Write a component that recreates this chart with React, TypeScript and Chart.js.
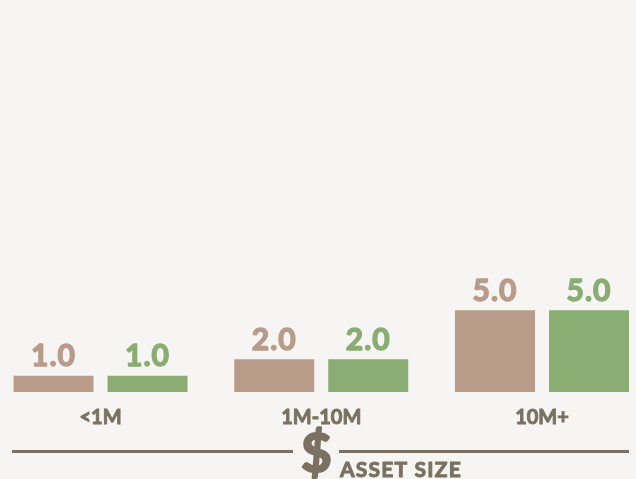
import React, { useEffect, useRef } from "react";
import { Chart, registerables } from "chart.js";

Chart.register(...registerables);

const categories = ["<1M", "1M-10M", "10M+"];
const seriesA = [1.0, 2.0, 5.0];
const seriesB = [1.0, 2.0, 5.0];
const seriesNames = ["Series A", "Series B"];

const BROWN = "#b89c89";
const GREEN = "#8aad73";
const INK = "#7a7162";
const BG = "#f7f5f3";

const valueLabels = {
  id: "valueLabels",
  afterDatasetsDraw(chart: any) {
    const ctx = chart.ctx;
    ctx.save();
    ctx.font = "bold 30px Lato";
    (ctx as any).letterSpacing = "1px";
    ctx.textAlign = "center";
    ctx.textBaseline = "alphabetic";
    ctx.lineWidth = 1.4;
    ctx.lineJoin = "round";
    chart.data.datasets.forEach((ds: any, di: number) => {
      const meta = chart.getDatasetMeta(di);
      meta.data.forEach((el: any, i: number) => {
        const v = ds.data[i].y;
        ctx.fillStyle = ds.backgroundColor;
        ctx.strokeStyle = ds.backgroundColor;
        ctx.fillText(v.toFixed(1), el.x, el.y - 9.5);
        ctx.strokeText(v.toFixed(1), el.x, el.y - 9.5);
      });
    });
    ctx.restore();
  },
};

const axisDecor = {
  id: "axisDecor",
  afterDraw(chart: any) {
    const ctx = chart.ctx;
    ctx.save();
    ctx.strokeStyle = INK;
    ctx.lineWidth = 3;
    ctx.beginPath();
    ctx.moveTo(12, 451.5);
    ctx.lineTo(293, 451.5);
    ctx.moveTo(339, 451.5);
    ctx.lineTo(629, 451.5);
    ctx.stroke();
    ctx.fillStyle = INK;
    ctx.textAlign = "left";
    ctx.textBaseline = "alphabetic";
    ctx.lineJoin = "round";
    ctx.font = "bold 53px Lato";
    ctx.lineWidth = 2.2;
    ctx.fillText("$", 301, 472);
    ctx.strokeText("$", 301, 472);
    ctx.font = "bold 21px Lato";
    (ctx as any).letterSpacing = "1.2px";
    ctx.lineWidth = 1;
    ctx.fillText("ASSET SIZE", 340, 477);
    ctx.strokeText("ASSET SIZE", 340, 477);
    ctx.restore();
  },
};

export default function App() {
  const ref = useRef<HTMLCanvasElement>(null);
  useEffect(() => {
    if (!ref.current) return;
    const chart = new Chart(ref.current, {
      type: "bar",
      data: {
        datasets: [
          {
            label: seriesNames[0],
            data: categories.map((_, i) => ({ x: i, y: seriesA[i] })),
            backgroundColor: BROWN,
          },
          {
            label: seriesNames[1],
            data: categories.map((_, i) => ({ x: i, y: seriesB[i] })),
            backgroundColor: GREEN,
          },
        ],
      },
      options: {
        animation: false,
        responsive: true,
        maintainAspectRatio: false,
        categoryPercentage: 0.8517,
        barPercentage: 0.851,
        layout: { padding: { top: 0, left: 0, right: 0, bottom: 35 } },
        plugins: { legend: { display: false }, tooltip: { enabled: false } },
        scales: {
          x: {
            type: "linear",
            offset: false,
            min: -0.4553,
            max: 2.4258,
            grid: { display: false, drawTicks: false, offset: false },
            border: { display: false },
            afterBuildTicks: (scale: any) => {
              scale.ticks = categories.map((_, i) => ({ value: i }));
            },
            ticks: {
              autoSkip: false,
              maxRotation: 0,
              padding: 14,
              color: INK,
              textStrokeColor: INK,
              textStrokeWidth: 0.9,
              font: { family: "Lato", weight: "bold", size: 20 },
              callback: (v: any) => categories[Math.round(Number(v))] ?? "",
            },
          },
          y: {
            display: false,
            min: 0,
            max: 24,
          },
        },
      } as any,
      plugins: [valueLabels, axisDecor],
    });
    return () => chart.destroy();
  }, []);
  return (
    <div
      style={{
        position: "absolute",
        left: 0,
        top: 0,
        width: 636,
        height: 479,
        background: BG,
      }}
    >
      <canvas ref={ref} />
    </div>
  );
}
